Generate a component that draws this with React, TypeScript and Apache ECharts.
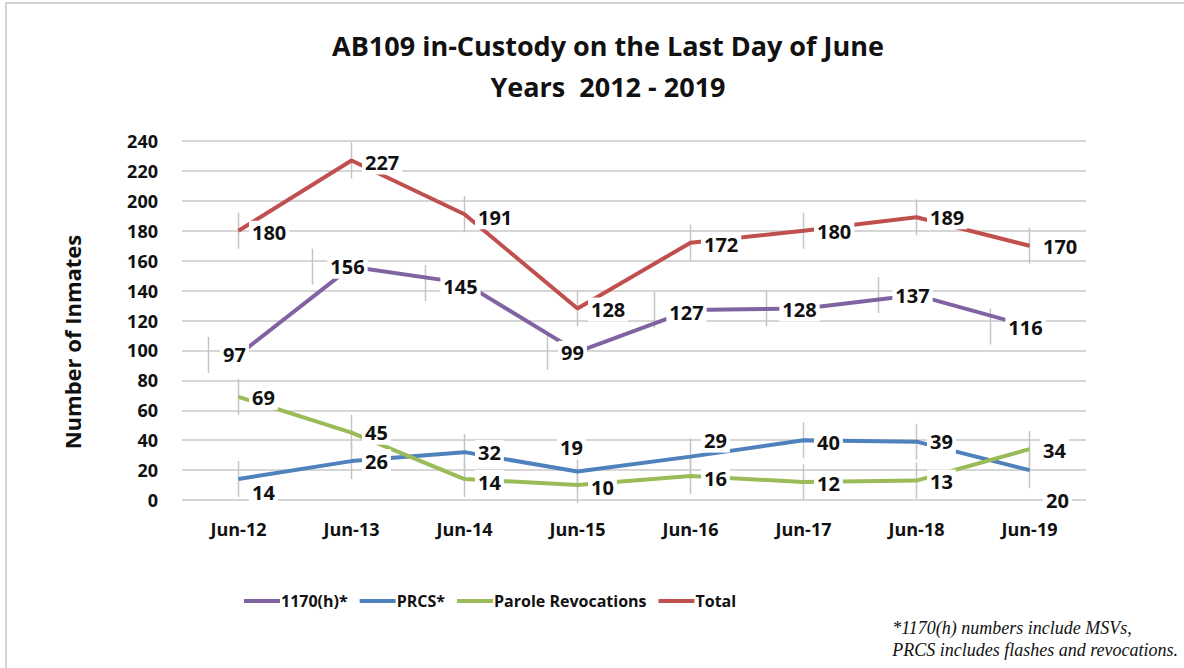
import React, { useEffect, useRef } from "react";
import * as echarts from "echarts";

const categories = ["Jun-12", "Jun-13", "Jun-14", "Jun-15", "Jun-16", "Jun-17", "Jun-18", "Jun-19"];
const seriesNames = ["1170(h)*", "PRCS*", "Parole Revocations", "Total"];
const h1170 = [97, 156, 145, 99, 127, 128, 137, 116];
const prcs = [14, 26, 32, 19, 29, 40, 39, 20];
const parole = [69, 45, 14, 10, 16, 12, 13, 34];
const total = [180, 227, 191, 128, 172, 180, 189, 170];
const yTicks = [0, 20, 40, 60, 80, 100, 120, 140, 160, 180, 200, 220, 240];

// label layout (pixels), separate from data
const offH1170 = [[-4, 0], [-4, 0], [-4, 3], [-5, 1], [-4, 2], [-4, 1], [-4, 0], [-4, 1]];
const offPrcs = [[0, 13], [0, 0], [0, 0], [-31, -24], [0, -16], [0, 2], [0, 0], [3, 30]];
const offParole = [[0, 1], [0, 0], [0, 3], [0, 2], [0, 2], [0, 1], [0, 1], [0, 1]];
const offTotal = [[0, 2], [0, 2], [0, 3], [0, 1], [0, 2], [0, 1], [0, 0], [0, 1]];
// leader-line horizontal shifts (pixels)
const leadH1170 = [-30, -39, -39, -30, -36, -37, -38, -39];
const leadOther = [0, 0, 0, 0, 0, 0, 0, 0];

const colors = ["#8064A2", "#4F81BD", "#9BBB59", "#C0504D"];

export default function App() {
  const ref = useRef<HTMLDivElement>(null);
  useEffect(() => {
    if (!ref.current) return;
    const chart = echarts.init(ref.current, undefined, { renderer: "svg" });
    const labelBase = {
      show: true,
      fontFamily: "Open Sans, sans-serif",
      fontWeight: "bold" as const,
      fontSize: 20,
      color: "#111",
      backgroundColor: "#fff",
      padding: [2, 3, 2, 3],
    };
    const mk = (name: string, vals: number[], offs: number[][], color: string, pos: string) => ({
      name,
      type: "line",
      data: vals,
      symbol: "circle",
      symbolSize: 1,
      showSymbol: true,
      lineStyle: { color, width: 4 },
      itemStyle: { color },
      label: { ...labelBase, position: pos, distance: 10 },
      labelLayout: (p: any) => {
        const o = offs[p.dataIndex] || [0, 0];
        return { dx: o[0], dy: o[1], hideOverlap: false };
      },
      z: 3,
    });
    const leaders: number[][] = [];
    const addLead = (vals: number[], dx: number[]) => vals.forEach((v, i) => leaders.push([i, v, dx[i]]));
    addLead(h1170, leadH1170);
    addLead(prcs, leadOther);
    addLead(parole, leadOther);
    addLead(total, leadOther);

    chart.setOption({
      animation: false,
      backgroundColor: "#fff",
      textStyle: { fontFamily: "Open Sans, sans-serif" },
      title: {
        text: "AB109 in-Custody on the Last Day of June\nYears  2012 - 2019",
        left: 603,
        top: 20,
        textAlign: "center",
        textStyle: { fontSize: 27, fontWeight: "bold", color: "#111", lineHeight: 41, fontFamily: "Open Sans, sans-serif" },
      },
      legend: {
        data: seriesNames,
        left: 239,
        top: 588,
        itemWidth: 36,
        itemHeight: 4,
        itemGap: 12,
        icon: "rect",
        textStyle: { fontSize: 16, fontWeight: "bold", color: "#111", padding: [0, 0, 0, -4] },
      },
      grid: { left: 182, right: 98, top: 141, bottom: 168, containLabel: false },
      xAxis: {
        type: "category",
        data: categories,
        boundaryGap: true,
        axisLine: { show: false },
        axisTick: { show: false },
        axisLabel: { fontSize: 18, fontWeight: "bold", color: "#111", margin: 20 },
      },
      yAxis: {
        type: "value",
        min: 0,
        max: 240,
        interval: 20,
        axisLine: { show: false },
        axisTick: { show: false },
        axisLabel: {
          fontSize: 18,
          fontWeight: "bold",
          color: "#111",
          margin: 24,
          formatter: (v: number) => (yTicks.includes(v) ? String(v) : ""),
        },
        splitLine: { lineStyle: { color: "#c8c8c8", width: 1.5 } },
      },
      series: [
        {
          type: "custom",
          silent: true,
          z: 1,
          data: leaders,
          encode: { x: 0, y: 1 },
          renderItem: (params: any, api: any) => {
            const p = api.coord([api.value(0), api.value(1)]);
            const dx = api.value(2);
            return {
              type: "line",
              shape: { x1: p[0] + dx, y1: p[1] - 18, x2: p[0] + dx, y2: p[1] + 18 },
              style: { stroke: "#c4c4c4", lineWidth: 1.5 },
            };
          },
        },
        mk(seriesNames[0], h1170, offH1170, colors[0], "inside"),
        mk(seriesNames[1], prcs, offPrcs, colors[1], "right"),
        mk(seriesNames[2], parole, offParole, colors[2], "right"),
        mk(seriesNames[3], total, offTotal, colors[3], "right"),
      ],
      color: colors,
      graphic: [
        {
          type: "rect",
          shape: { x: 6, y: 3, width: 1200, height: 700 },
          style: { fill: "none", stroke: "#d4d4d4", lineWidth: 2 },
          silent: true,
        },
        {
          type: "text",
          x: 72,
          y: 342,
          rotation: Math.PI / 2,
          style: {
            text: "Number of Inmates",
            font: "bold 22px 'Open Sans', sans-serif",
            fill: "#111",
            align: "center",
            verticalAlign: "middle",
          },
        },
        {
          type: "text",
          right: 6,
          top: 617,
          style: {
            text: "*1170(h) numbers include MSVs,\nPRCS includes flashes and revocations.",
            font: "italic 18px 'Liberation Serif', serif",
            fill: "#111",
            lineHeight: 22,
            align: "left",
          },
        },
      ],
    });
    return () => chart.dispose();
  }, []);
  return <div ref={ref} style={{ position: "absolute", left: 0, top: 0, width: 1184, height: 668 }} />;
}
